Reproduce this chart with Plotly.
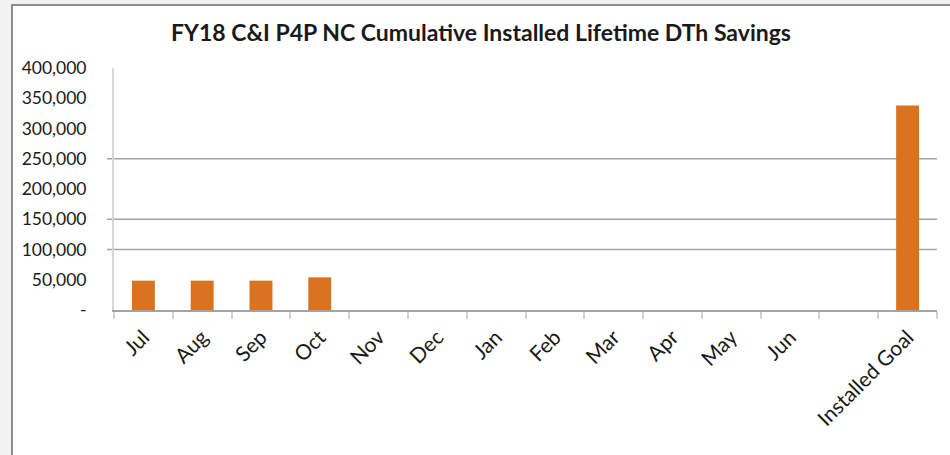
import plotly.graph_objects as go

title_text = "FY18 C&I P4P NC Cumulative Installed Lifetime DTh Savings"
categories = ["Jul", "Aug", "Sep", "Oct", "Nov", "Dec", "Jan", "Feb", "Mar", "Apr", "May", "Jun", " ", "Installed Goal"]
savings = [48500, 48500, 48500, 54000, None, None, None, None, None, None, None, None, None, 338000]
y_tick_values = [0, 50000, 100000, 150000, 200000, 250000, 300000, 350000, 400000]
y_tick_labels = ["-", "50,000", "100,000", "150,000", "200,000", "250,000", "300,000", "350,000", "400,000"]
gridline_values = [100000, 150000, 250000]

FONT = "Lato"
W, H = 950, 455
ML, MR, MT, MB = 114, 13, 68, 145
PW, PH = W - ML - MR, H - MT - MB

def px_x(p):
    return (p - ML) / PW

def px_y(p):
    return (H - MB - p) / PH

fig = go.Figure()
fig.add_trace(go.Bar(
    x=categories, y=savings,
    marker=dict(color="#DA7320", line=dict(width=0)),
    hoverinfo="x+y",
))

shapes = [
    dict(type="rect", xref="paper", yref="paper",
         x0=px_x(12), x1=px_x(W + 20), y0=px_y(5), y1=px_y(H + 20),
         line=dict(color="#8C8C8C", width=2), fillcolor="white", layer="below"),
]
for v in gridline_values:
    shapes.append(dict(type="line", xref="paper", yref="y", x0=px_x(107), x1=1,
                       y0=v, y1=v, line=dict(color="#A3A3A3", width=1.5), layer="below"))

fig.update_layout(
    width=W, height=H,
    margin=dict(l=ML, r=MR, t=MT, b=MB, pad=0),
    paper_bgcolor="#F2F2F2",
    plot_bgcolor="rgba(0,0,0,0)",
    showlegend=False,
    bargap=0.61,
    font=dict(family=FONT, color="#1A1A1A"),
    title=dict(text="<b>" + title_text + "</b>", x=481 / W, xanchor="center",
               y=1 - 33 / H, yanchor="middle", font=dict(family=FONT, size=23, color="#1A1A1A")),
    shapes=shapes,
    xaxis=dict(
        type="category", categoryorder="array", categoryarray=categories,
        tickangle=-45, tickfont=dict(size=21, family=FONT), ticklabelstandoff=5,
        ticks="outside", tickson="boundaries", ticklen=7, tickcolor="#D0D0D0", tickwidth=1.5,
        showline=True, linecolor="#A3A3A3", linewidth=1.5,
        showgrid=False, zeroline=False, fixedrange=True,
    ),
    yaxis=dict(
        range=[0, 400000], tickvals=y_tick_values, ticktext=y_tick_labels,
        tickfont=dict(size=17.5, family=FONT),
        ticks="", ticklabelstandoff=22,
        showline=True, linecolor="#D6D6D6", linewidth=2,
        showgrid=False, zeroline=False, fixedrange=True,
    ),
)

fig.write_html("out.html", config={"displayModeBar": False},
               post_script="document.body.style.margin='0';")
